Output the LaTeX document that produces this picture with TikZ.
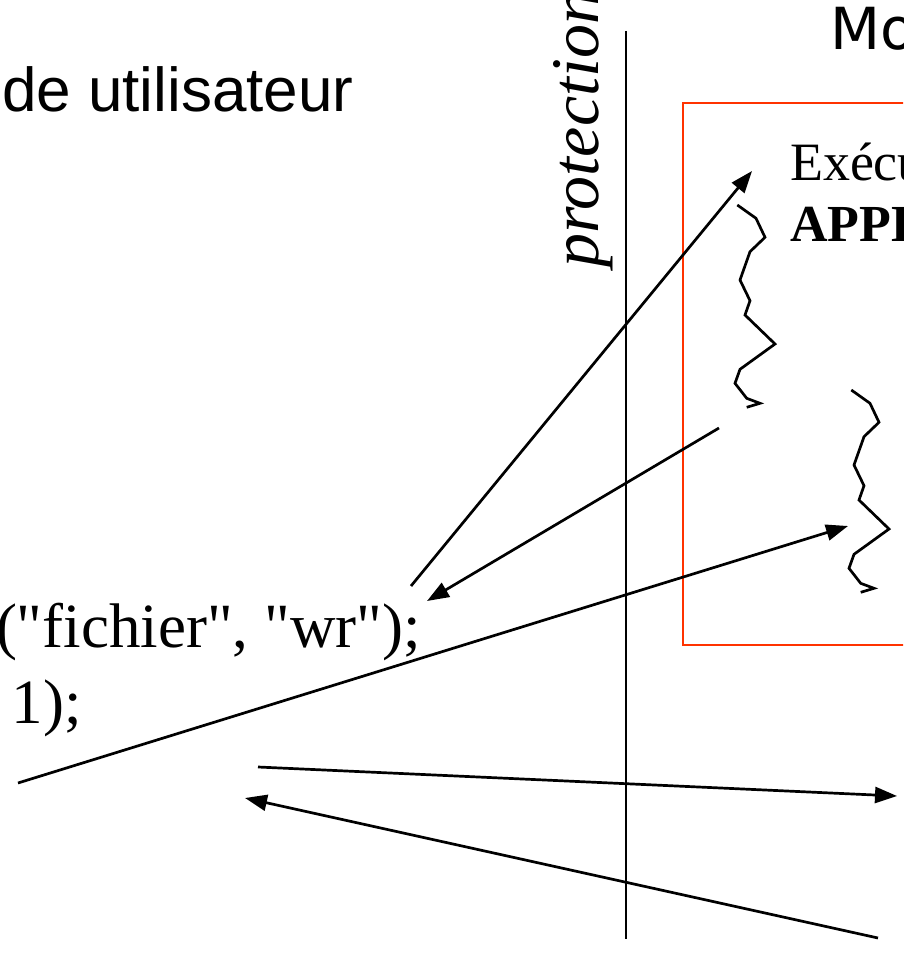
\documentclass[tikz,border=0pt]{standalone}
\usepackage{fontspec}
\setmainfont{Liberation Serif}[ItalicFont={Liberation Serif Italic},BoldFont={Liberation Serif Bold}]
\newfontfamily\codef{Liberation Serif}[Ligatures=TeXOff]
\newfontfamily\arialf{Liberation Sans}
\newfontfamily\dejaf{DejaVu Sans}
\usetikzlibrary{arrows.meta}
\definecolor{boxred}{RGB}{255,51,0}
\tikzset{
  conn/.style={line width=2.7pt,-{Triangle[length=22pt,width=16pt]}},
  plainline/.style={line width=2.7pt},
  squig/.style={line width=2.7pt,line join=miter},
  lbl/.style={inner sep=0pt,outer sep=0pt}
}
\begin{document}
\begin{tikzpicture}[x=1pt,y=-1pt]
\useasboundingbox (0,0) rectangle (903,973);
\clip (0,0) rectangle (903,973);
% texts
\node[lbl,anchor=base west] (user) at (2,112) {\arialf\fontsize{62}{62}\selectfont de utilisateur};
\node[lbl,anchor=base west] (kern) at (830,50) {\dejaf\fontsize{58}{58}\selectfont Mo};
\node[lbl,anchor=base west,rotate=90] (prot) at (598,268) {\fontsize{68}{68}\selectfont\itshape protection};
\node[lbl,anchor=base west] (exec) at (790,181) {\fontsize{54}{54}\selectfont Exécu};
\node[lbl,anchor=base west] (appl) at (790,242) {\fontsize{52}{52}\selectfont\bfseries APPL};
\node[lbl,anchor=base west] (code1) at (-4,647) {\codef\fontsize{63}{63}\selectfont ("fichier", "wr");};
\node[lbl,anchor=base west] (code2) at (12,723) {\codef\fontsize{63}{63}\selectfont 1);};
% protection line and box
\coordinate (vtop) at (626,31);
\coordinate (vbot) at (626,939);
\draw[plainline] (vtop) -- (vbot);
\draw[boxred,line width=2.7pt] (920,103) -- (683,103) -- (683,645) -- (920,645);
% squiggles
\draw[squig] (737.3,205) -- (756,218.3) -- (765,237.3) -- (750,251.7) -- (740,280) -- (750,300.7) -- (745,315) -- (775,344) -- (740,369.3) -- (735,383.3) -- (746.7,398.3) -- (760,403.3) -- (746.7,407.3);
\begin{scope}[shift={(114,185)}]
\draw[squig] (737.3,205) -- (756,218.3) -- (765,237.3) -- (750,251.7) -- (740,280) -- (750,300.7) -- (745,315) -- (775,344) -- (740,369.3) -- (735,383.3) -- (746.7,398.3) -- (760,403.3) -- (746.7,407.3);
\end{scope}
% arrows
\coordinate (a1s) at (411,586); \coordinate (a1e) at (752,171);
\coordinate (a2s) at (719,428); \coordinate (a2e) at (427,601);
\coordinate (a3s) at (18,783);  \coordinate (a3e) at (848,526);
\coordinate (a4s) at (258,767); \coordinate (a4e) at (897,796);
\coordinate (a5s) at (878,938); \coordinate (a5e) at (245,798);
\draw[conn] (a1s) -- (a1e);
\draw[conn] (a2s) -- (a2e);
\draw[conn] (a3s) -- (a3e);
\draw[conn] (a4s) -- (a4e);
\draw[conn] (a5s) -- (a5e);
\end{tikzpicture}
\end{document}
